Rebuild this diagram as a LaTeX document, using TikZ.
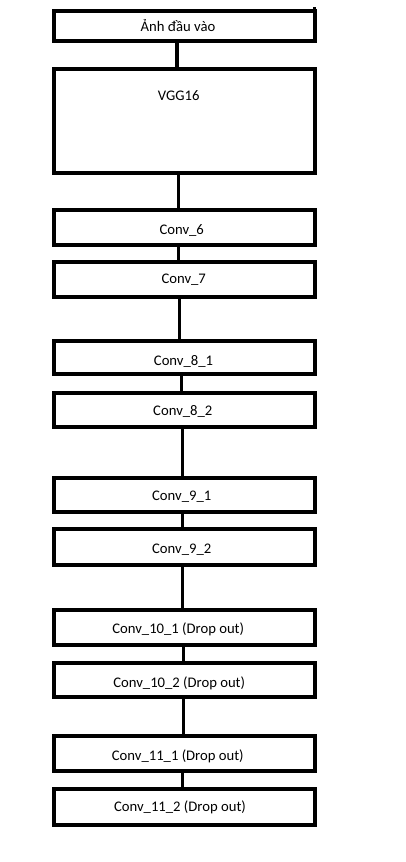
\documentclass[tikz,border=0pt]{standalone}
\usepackage{fontspec}
\setmainfont{Carlito}
\begin{document}
\begin{tikzpicture}[x=1pt,y=-1pt,
  layer/.style={draw, line width=4pt, fill=white, minimum width=260.7pt,
                inner sep=0pt, outer sep=0pt},
  caption/.style={anchor=base, inner sep=0pt,
                  font=\fontsize{14.67}{17}\selectfont},
  link/.style={line width=3.3pt}]
\useasboundingbox (0,0) rectangle (406,862);

% network stages
\node[layer, minimum height=30.3pt] (input) at (184.3,26.2) {};
\node[layer, minimum height=104.3pt] (vgg) at (184.3,120.8) {};
\node[layer, minimum height=35pt] (c6) at (184.3,227.8) {};
\node[layer, minimum height=35.3pt] (c7) at (184.3,279.7) {};
\node[layer, minimum height=32.7pt] (c81) at (184.3,357.7) {};
\node[layer, minimum height=34.6pt] (c82) at (184.3,410) {};
\node[layer, minimum height=34pt] (c91) at (184.3,495) {};
\node[layer, minimum height=36.6pt] (c92) at (184.3,547) {};
\node[layer, minimum height=34.4pt] (c101) at (184.3,627.5) {};
\node[layer, minimum height=34.6pt] (c102) at (184.3,680) {};
\node[layer, minimum height=35.3pt] (c111) at (184.3,753.7) {};
\node[layer, minimum height=36pt] (c112) at (184.3,806.7) {};

% small stub above the input box
\draw[line width=3.3pt] (input.north east) -- ++(0,-4.3);

% labels
\node[caption] (input-t) at (178,31.7) {Ảnh đầu vào};
\node[caption] (vgg-t) at (178.7,100) {VGG16};
\node[caption] (c6-t) at (181.7,234.3) {Conv\_6};
\node[caption] (c7-t) at (183.7,283.3) {Conv\_7};
\node[caption] (c81-t) at (183.5,365) {Conv\_8\_1};
\node[caption] (c82-t) at (182.8,415) {Conv\_8\_2};
\node[caption] (c91-t) at (181.7,500.7) {Conv\_9\_1};
\node[caption] (c92-t) at (181.7,553.3) {Conv\_9\_2};
\node[caption] (c101-t) at (178.2,633.3) {Conv\_10\_1 (Drop out)};
\node[caption] (c102-t) at (179.2,687.3) {Conv\_10\_2 (Drop out)};
\node[caption] (c111-t) at (177.8,760) {Conv\_11\_1 (Drop out)};
\node[caption] (c112-t) at (180,811.7) {Conv\_11\_2 (Drop out)};

% connectors
\draw[link] ([xshift=-7.3pt]input.south) -- ([xshift=-7.3pt]vgg.north);
\draw[link] ([xshift=-6pt]vgg.south) -- ([xshift=-6pt]c6.north);
\draw[link] ([xshift=-6pt]c6.south) -- ([xshift=-6pt]c7.north);
\draw[link] ([xshift=-5pt]c7.south) -- ([xshift=-5pt]c81.north);
\draw[link] ([xshift=-2.6pt]c81.south) -- ([xshift=-2.6pt]c82.north);
\draw[link] ([xshift=-1.6pt]c82.south) -- ([xshift=-1.6pt]c91.north);
\draw[link] ([xshift=-1.6pt]c91.south) -- ([xshift=-1.6pt]c92.north);
\draw[link] ([xshift=-1.6pt]c92.south) -- ([xshift=-1.6pt]c101.north);
\draw[link] ([xshift=-1pt]c101.south) -- ([xshift=-1pt]c102.north);
\draw[link] ([xshift=-1pt]c102.south) -- ([xshift=-1pt]c111.north);
\draw[link] ([xshift=-1.6pt]c111.south) -- ([xshift=-1.6pt]c112.north);
\end{tikzpicture}
\end{document}
